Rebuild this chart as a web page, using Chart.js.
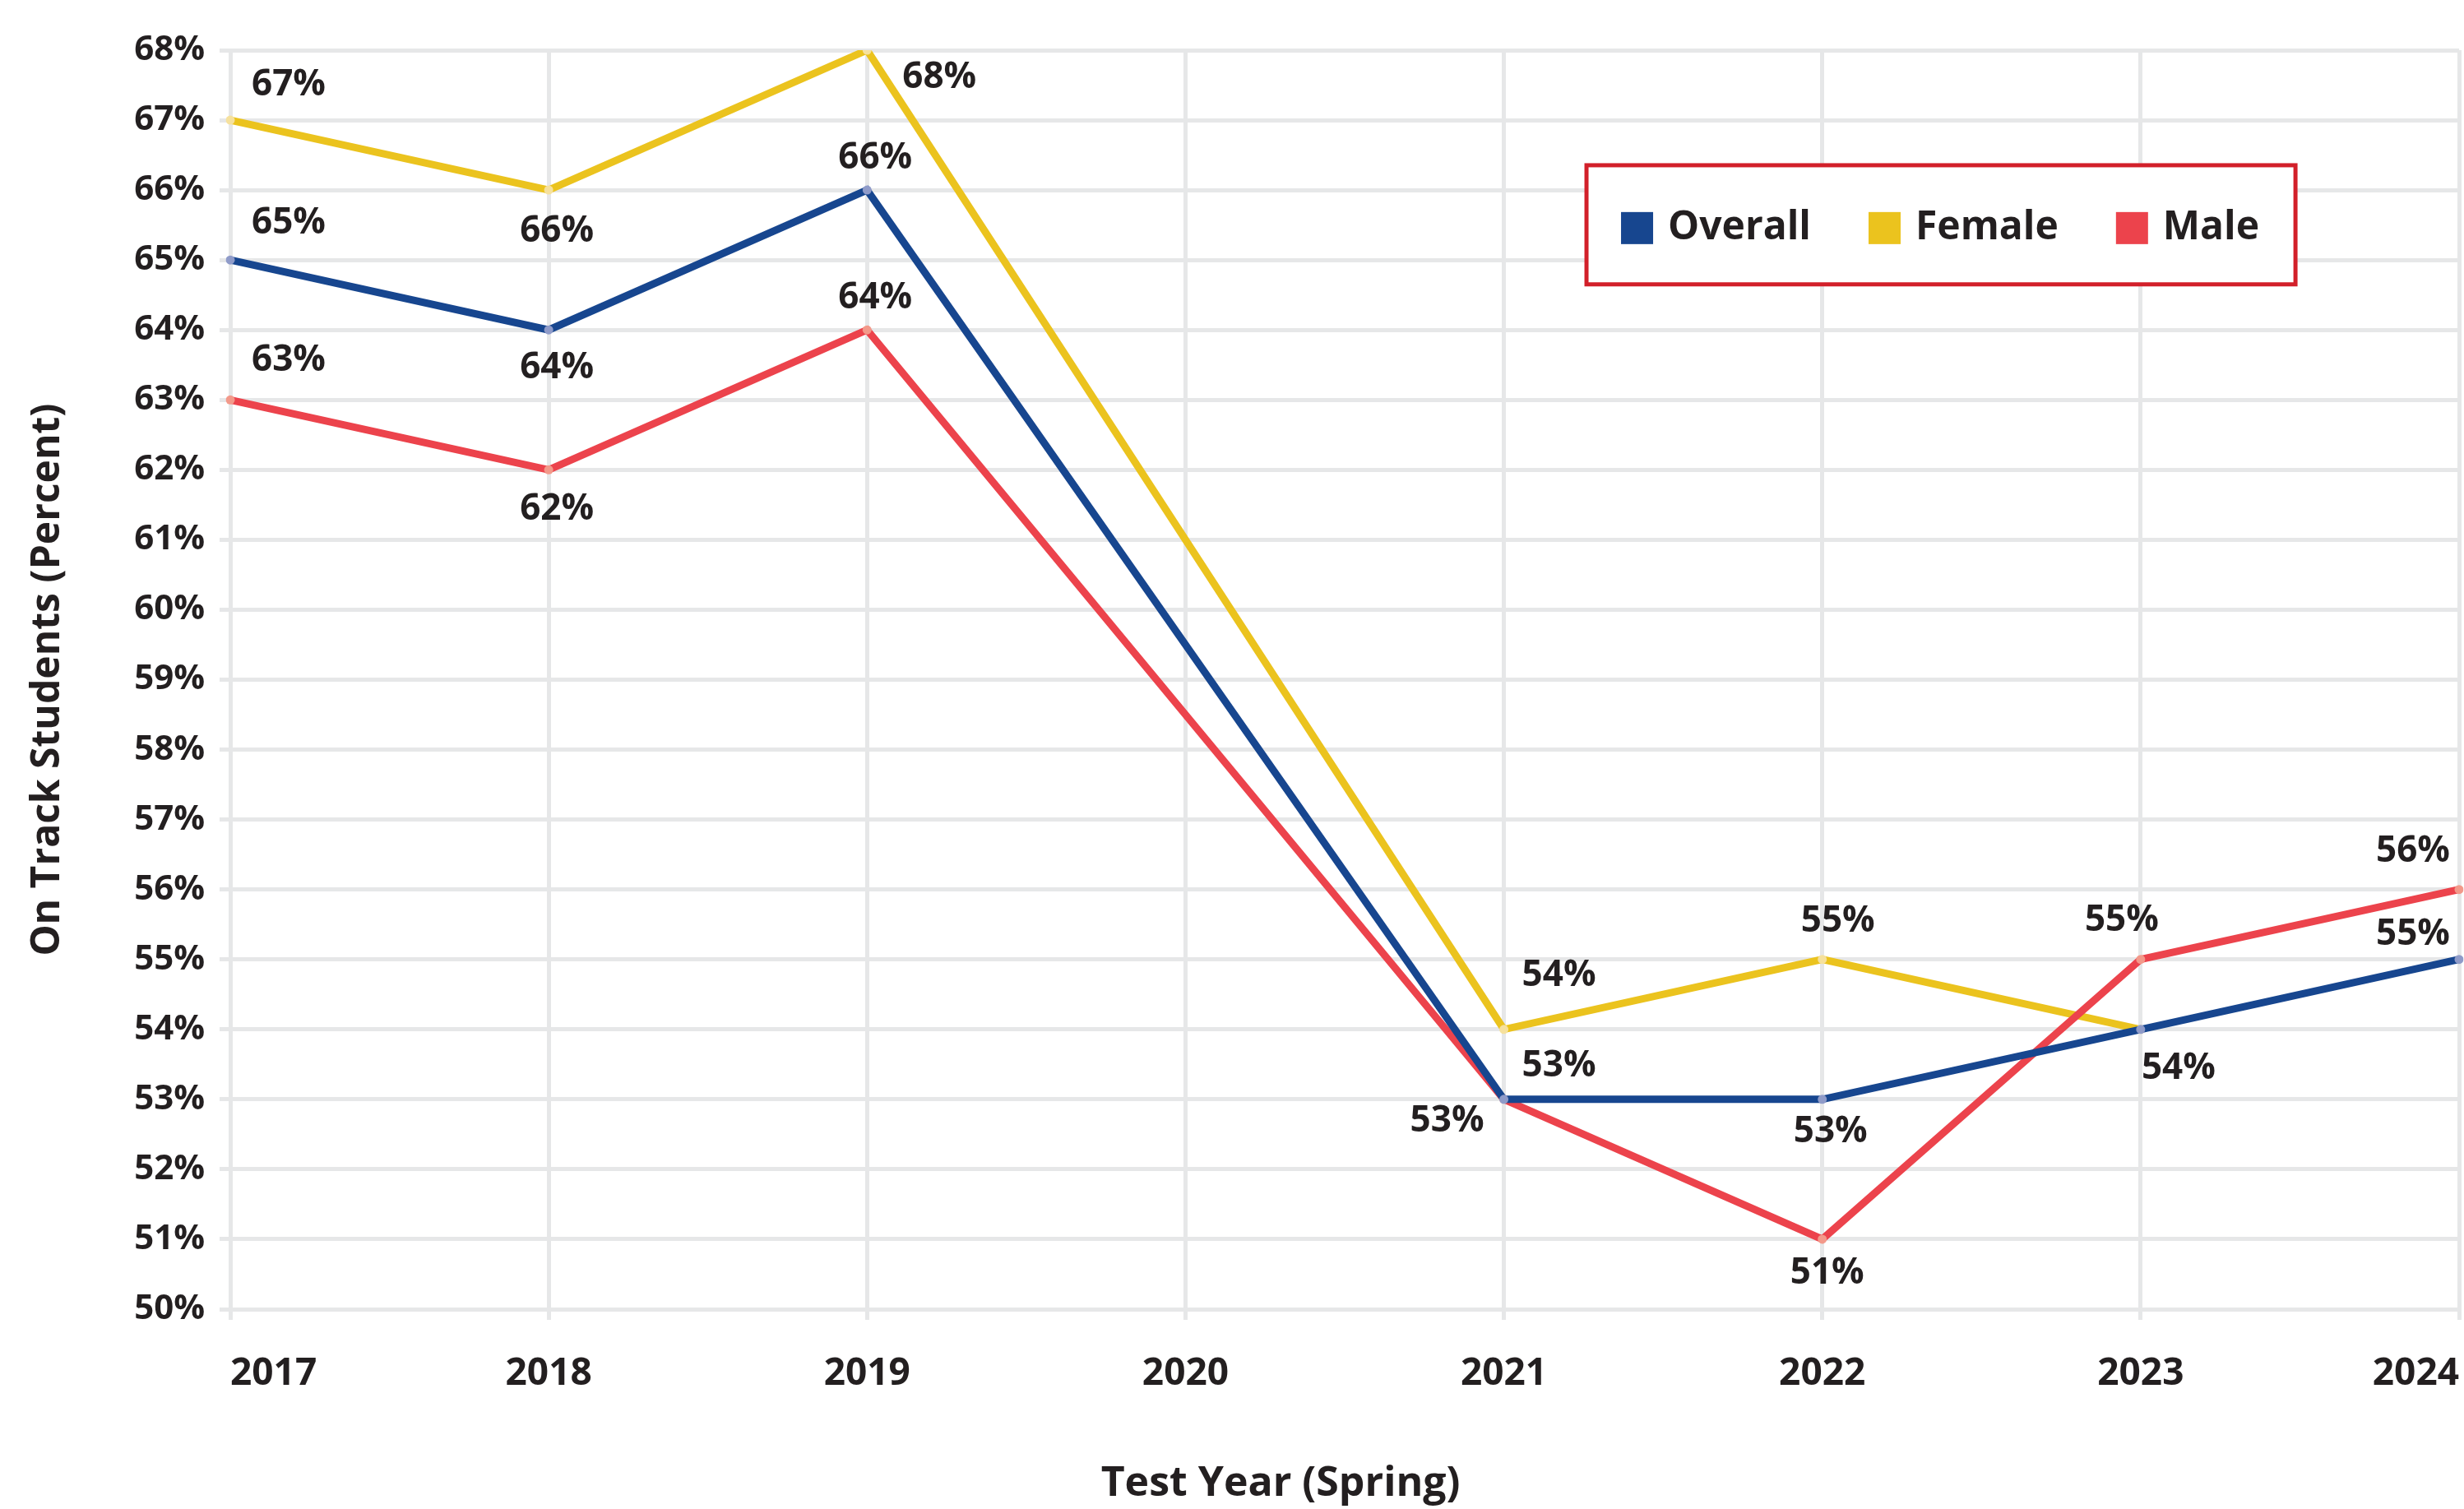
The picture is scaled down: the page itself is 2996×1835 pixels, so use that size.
<!DOCTYPE html>
<html>
<head>
<meta charset="utf-8">
<script src="https://cdn.jsdelivr.net/npm/chart.js@4.4.1/dist/chart.umd.min.js"></script>
<style>
  html, body { margin: 0; padding: 0; background: #fff; }
</style>
</head>
<body>
<canvas id="chart" width="2996" height="1835"></canvas>
<script>
// Test years (2020 has no data, lines span the gap)
const years = ['2017', '2018', '2019', '2020', '2021', '2022', '2023', '2024']
const overall = [65, 64, 66, null, 53, 53, 54, 55]
const female = [67, 66, 68, null, 54, 55, 54, null]
const male = [63, 62, 64, null, 53, 51, 55, 56]
const yMin = 50
const yMax = 68

const textColor = '#231f20'
const gridColor = '#e6e7e8'
const fontFamily = '"Open Sans", "Liberation Sans", sans-serif'

// Value labels next to each point, offset [dx, dy] in px (null = no label)
const valueLabels = {
  id: 'valueLabels',
  afterDatasetsDraw(chart) {
    const ctx = chart.ctx
    ctx.save()
    ctx.font = `bold 44px ${fontFamily}`
    ctx.fillStyle = textColor
    ctx.textAlign = 'center'
    ctx.textBaseline = 'middle'
    chart.data.datasets.forEach((ds, i) => {
      const meta = chart.getDatasetMeta(i)
      meta.data.forEach((pt, j) => {
        const v = ds.data[j]
        const off = ds.labelOffsets[j]
        if (v === null || !off) return
        ctx.fillText(v + '%', pt.x + off[0], pt.y + off[1])
      })
    })
    ctx.restore()
  }
}

// Boxed legend inside the plot, upper right
const boxLegend = {
  id: 'boxLegend',
  afterDatasetsDraw(chart) {
    const { ctx, chartArea: a } = chart
    const left = a.left + a.width * 0.6085
    const right = a.left + a.width * 0.9266
    const top = a.top + a.height * 0.0914
    const bottom = a.top + a.height * 0.186
    const cy = (top + bottom) / 2 + 4
    ctx.save()
    ctx.fillStyle = '#fff'
    ctx.fillRect(left, top, right - left, bottom - top)
    ctx.strokeStyle = '#d2202a'
    ctx.lineWidth = 5
    ctx.strokeRect(left, top, right - left, bottom - top)
    ctx.font = `bold 48px ${fontFamily}`
    ctx.textBaseline = 'middle'
    ctx.textAlign = 'left'
    const order = [0, 2, 1] // Overall, Female, Male
    let x = left + 42
    order.forEach(i => {
      const ds = chart.data.datasets[i]
      ctx.fillStyle = ds.borderColor
      ctx.fillRect(x, cy - 19.5, 39, 39)
      ctx.fillStyle = textColor
      ctx.fillText(ds.label, x + 57, cy)
      x += 57 + ctx.measureText(ds.label).width + 70
    })
    ctx.restore()
  }
}

const ctx = document.getElementById('chart').getContext('2d')

new Chart(ctx, {
  type: 'line',
  data: {
    labels: years,
    datasets: [{
      label: 'Overall',
      data: overall,
      borderColor: '#17468f',
      pointBackgroundColor: '#8f9bc9',
      labelOffsets: [[71, -45], [10, 46], [10, -39], null, [67, -40], [10, 40], [46, 48], [-56, -30]],
      order: 0
    }, {
      label: 'Male',
      data: male,
      borderColor: '#ec434c',
      pointBackgroundColor: '#f3998a',
      labelOffsets: [[71, -48], [10, 48], [10, -39], null, [-69, 27], [6, 42], [-23, -47], [-56, -46]],
      order: 1
    }, {
      label: 'Female',
      data: female,
      borderColor: '#ebc31e',
      pointBackgroundColor: '#f6e19d',
      labelOffsets: [[71, -43], [10, 50], [88, 33], null, [67, -65], [19, -46], null, null],
      order: 2
    }]
  },
  options: {
    responsive: false,
    animation: false,
    spanGaps: true,
    layout: {
      padding: { left: 0, top: 61, right: 6, bottom: 0 }
    },
    elements: {
      line: { borderWidth: 9, tension: 0, borderCapStyle: 'round' },
      point: { radius: 5.5, borderWidth: 0, hoverRadius: 5.5 }
    },
    plugins: {
      legend: { display: false },
      tooltip: { enabled: false }
    },
    scales: {
      x: {
        type: 'category',
        offset: false,
        afterFit: (scale) => {
          scale.height = 243
          // labels are inner-aligned, so no side padding is needed
          scale.paddingLeft = 0
          scale.paddingRight = 0
        },
        border: { display: false },
        grid: { color: gridColor, lineWidth: 5, tickLength: 13, drawTicks: true },
        ticks: {
          color: textColor,
          font: { family: fontFamily, size: 46, weight: 'bold' },
          padding: 38,
          align: 'inner',
          maxRotation: 0,
          autoSkip: false
        },
        title: {
          display: true,
          text: 'Test Year (Spring)            ',
          color: textColor,
          font: { family: fontFamily, size: 50, weight: 'bold' },
          padding: { top: 0, bottom: 0 }
        }
      },
      y: {
        min: yMin,
        max: yMax,
        afterFit: (scale) => { scale.width = 280 },
        border: { display: false },
        grid: { color: gridColor, lineWidth: 5, tickLength: 13 },
        ticks: {
          stepSize: 1,
          color: textColor,
          font: { family: fontFamily, size: 42, weight: 'bold' },
          padding: 18,
          crossAlign: 'center',
          callback: (value) => value + '%'
        },
        title: {
          display: true,
          text: 'On Track Students (Percent)',
          color: textColor,
          font: { family: fontFamily, size: 48, weight: 'bold' },
          padding: { top: 30, bottom: 0 }
        }
      }
    }
  },
  plugins: [valueLabels, boxLegend]
})
</script>
</body>
</html>
